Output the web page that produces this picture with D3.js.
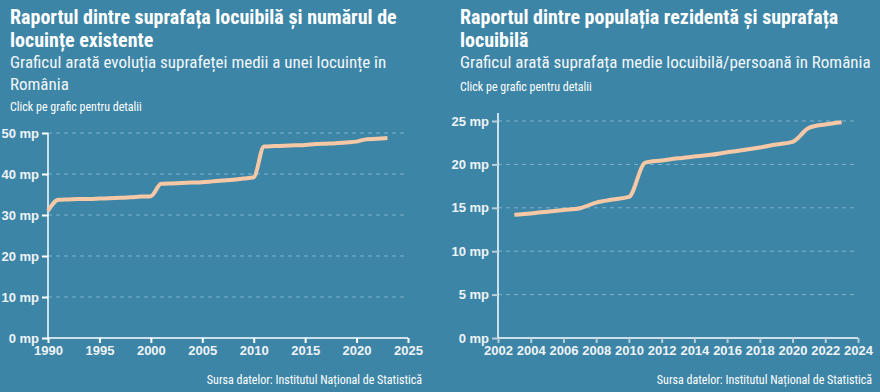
<!DOCTYPE html>
<html>
<head>
<meta charset="utf-8">
<script src="https://cdn.jsdelivr.net/npm/d3@7"></script>
<style>
  html, body { margin: 0; padding: 0; background: #3d85a6; }
  svg { display: block; font-family: "Liberation Sans Narrow", "Roboto Condensed", Roboto, sans-serif; }
</style>
</head>
<body>
<svg id="chart" width="880" height="392"></svg>
<script>
const yearsA = d3.range(1990, 2024);
const areaPerDwelling = [31.0, 33.7, 33.8, 33.9, 33.9, 34.0, 34.1, 34.2, 34.3, 34.5,
  34.6, 37.6, 37.7, 37.8, 37.9, 38.0, 38.2, 38.4, 38.6, 38.9,
  39.2, 46.7, 46.8, 46.9, 47.0, 47.1, 47.3, 47.4, 47.5, 47.7,
  47.9, 48.5, 48.6, 48.8];
const ticksXA = [1990, 1995, 2000, 2005, 2010, 2015, 2020, 2025];
const ticksYA = [0, 10, 20, 30, 40, 50];

const yearsB = d3.range(2003, 2024);
const areaPerPerson = [14.2, 14.35, 14.55, 14.75, 14.95, 15.6, 15.95, 16.25, 20.2, 20.45,
  20.7, 20.9, 21.1, 21.4, 21.65, 21.95, 22.3, 22.6, 24.2, 24.6, 24.85];
const ticksXB = d3.range(2002, 2025, 2);
const ticksYB = [0, 5, 10, 15, 20, 25];

const titlesA = ["Raportul dintre suprafața locuibilă și numărul de", "locuințe existente"];
const subtitlesA = ["Graficul arată evoluția suprafeței medii a unei locuințe în", "România"];
const titlesB = ["Raportul dintre populația rezidentă și suprafața", "locuibilă"];
const subtitlesB = ["Graficul arată suprafața medie locuibilă/persoană în România"];
const clickText = "Click pe grafic pentru detalii";
const sourceText = "Sursa datelor: Institutul Național de Statistică";

const svg = d3.select("#chart");
svg.append("rect").attr("width", 880).attr("height", 392).attr("fill", "#3d85a6");

function drawPanel(opt) {
  const g = svg.append("g").attr("transform", `translate(${opt.left},0)`);

  opt.titles.forEach((t, i) => {
    g.append("text").attr("x", opt.textX).attr("y", 24 + i * 23)
      .attr("fill", "#ffffff").attr("font-size", 20).attr("font-weight", "bold").text(t);
  });
  opt.subtitles.forEach((t, i) => {
    g.append("text").attr("x", opt.textX).attr("y", 68 + i * 22)
      .attr("fill", "#f2f7fa").attr("font-size", 17).text(t);
  });
  g.append("text").attr("x", opt.textX).attr("y", opt.clickY)
    .attr("fill", "#ffffff").attr("font-size", 12).text(clickText);

  const x = d3.scaleLinear().domain(opt.xDomain).range([opt.x0, opt.x1]);
  const y = d3.scaleLinear().domain(opt.yDomain).range([338, opt.yTop]);

  // grid
  g.append("g").selectAll("line")
    .data(opt.ticksY.filter(d => d > 0))
    .join("line")
    .attr("x1", opt.x0).attr("x2", opt.gridEnd)
    .attr("y1", d => y(d)).attr("y2", d => y(d))
    .attr("stroke", "#8fc0d6").attr("stroke-width", 1)
    .attr("stroke-dasharray", "4,4").attr("opacity", 0.8);

  const yAxis = g.append("g").attr("transform", `translate(${opt.x0},0)`)
    .call(d3.axisLeft(y).tickValues(opt.ticksY).tickSize(6).tickPadding(3)
      .tickFormat(d => d + " mp"));
  const top = opt.axisTop !== undefined ? opt.axisTop : y(opt.yDomain[1]);
  yAxis.select(".domain").attr("d", `M0,338V${top}`);

  const xAxis = g.append("g").attr("transform", "translate(0,338)")
    .call(d3.axisBottom(x).tickValues(opt.ticksX).tickSize(5).tickPadding(3)
      .tickFormat(d3.format("d")));
  xAxis.select(".domain").attr("d", `M${opt.x0},0H${opt.x1}`);

  [yAxis, xAxis].forEach(ax => {
    ax.select(".domain").attr("stroke", "#ffffff").attr("stroke-width", 1.5);
    ax.selectAll(".tick line").attr("stroke", opt.tickColor).attr("stroke-width", 2);
    ax.selectAll(".tick text").attr("fill", "#eef4f8").attr("font-size", 13)
      .attr("font-weight", "bold").attr("font-family", null);
  });

  const line = d3.line()
    .x((d, i) => x(opt.years[i]))
    .y(d => y(d))
    .curve(d3.curveMonotoneX);
  g.append("path").datum(opt.values)
    .attr("d", line)
    .attr("fill", "none").attr("stroke", "#f7c8a6").attr("stroke-width", 4)
    .attr("stroke-linejoin", "round");

  g.append("text").attr("x", opt.sourceX).attr("y", 384)
    .attr("text-anchor", "end").attr("fill", "#ffffff").attr("font-size", 12)
    .text(sourceText);
}

drawPanel({
  left: 0, textX: 10, clickY: 111,
  titles: titlesA, subtitles: subtitlesA,
  years: yearsA, values: areaPerDwelling,
  xDomain: [1990, 2025], yDomain: [0, 50],
  x0: 48, x1: 408, yTop: 133, gridEnd: 406,
  ticksX: ticksXA, ticksY: ticksYA, tickColor: "#ffffff",
  sourceX: 422
});

drawPanel({
  left: 440, textX: 20, clickY: 91,
  titles: titlesB, subtitles: subtitlesB,
  years: yearsB, values: areaPerPerson,
  xDomain: [2002, 2024], yDomain: [0, 25],
  x0: 58, x1: 418, yTop: 121, gridEnd: 417, axisTop: 113,
  ticksX: ticksXB, ticksY: ticksYB, tickColor: "#b7cdd8",
  sourceX: 432
});
</script>
</body>
</html>
